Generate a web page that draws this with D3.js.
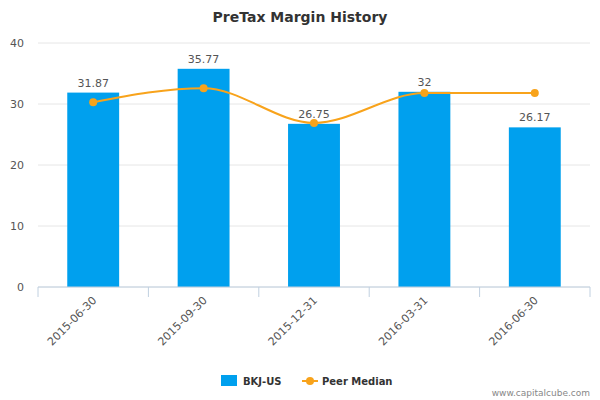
<!DOCTYPE html>
<html><head><meta charset="utf-8">
<script src="https://cdn.jsdelivr.net/npm/d3@7"></script>
<style>body{margin:0;background:#fff;font-family:"DejaVu Sans",sans-serif;}</style>
</head><body><svg id="chart" width="600" height="400"></svg>
<script>
const categories = ["2015-06-30", "2015-09-30", "2015-12-31", "2016-03-31", "2016-06-30"];
const companyValues = [31.87, 35.77, 26.75, 32, 26.17];
const peerMedian = [30.3, 32.6, 26.9, 31.8, 31.8];
const yTicks = [0, 10, 20, 30, 40];

const svg = d3.select("#chart");
const margin = {left: 38, right: 10, top: 43, bottom: 113};
const width = 600, height = 400;

const x = d3.scaleBand().domain(categories).range([margin.left, width - margin.right]).paddingInner(0.53).paddingOuter(0.265);
const y = d3.scaleLinear().domain([0, 40]).range([height - margin.bottom, margin.top]);

// grid
svg.append("g").selectAll("line").data(yTicks).enter().append("line")
  .attr("x1", margin.left).attr("x2", width - margin.right)
  .attr("y1", d => y(d)).attr("y2", d => y(d))
  .attr("stroke", "#e6e6e6");

svg.append("g").selectAll("text").data(yTicks).enter().append("text")
  .attr("x", 24).attr("y", d => y(d) + 4).attr("text-anchor", "end")
  .style("font-size", "11px").style("fill", "#555").text(d => d);

// bars
svg.append("g").selectAll("rect").data(companyValues).enter().append("rect")
  .attr("x", (d, i) => x(categories[i])).attr("width", x.bandwidth())
  .attr("y", d => y(d)).attr("height", d => y(0) - y(d))
  .attr("fill", "#00a0ee");

svg.append("g").selectAll("text").data(companyValues).enter().append("text")
  .attr("x", (d, i) => x(categories[i]) + x.bandwidth() / 2).attr("y", d => y(d) - 6)
  .attr("text-anchor", "middle").style("font-size", "11px").style("fill", "#555")
  .text(d => d);

// x axis
const base = y(0);
svg.append("line").attr("x1", margin.left).attr("x2", width - margin.right)
  .attr("y1", base).attr("y2", base).attr("stroke", "#c0d0e0");
const step = x.step();
const ticksX = d3.range(categories.length + 1).map(i => margin.left + i * step);
svg.append("g").selectAll("line").data(ticksX).enter().append("line")
  .attr("x1", d => d).attr("x2", d => d).attr("y1", base).attr("y2", base + 10)
  .attr("stroke", "#c0d0e0");
svg.append("g").selectAll("text").data(categories).enter().append("text")
  .attr("transform", d => `translate(${x(d) + x.bandwidth() / 2 + 4},${base + 14}) rotate(-45)`)
  .attr("text-anchor", "end").style("font-size", "11px").style("fill", "#555").text(d => d);

// peer median line
const cx = (d, i) => x(categories[i]) + x.bandwidth() / 2;
svg.append("path").datum(peerMedian)
  .attr("d", d3.line().x(cx).y(d => y(d)).curve(d3.curveMonotoneX))
  .attr("fill", "none").attr("stroke", "#f8a31b").attr("stroke-width", 2);
svg.append("g").selectAll("circle").data(peerMedian).enter().append("circle")
  .attr("cx", cx).attr("cy", d => y(d)).attr("r", 4).attr("fill", "#f8a31b");

// title
svg.append("text").attr("x", 300).attr("y", 22).attr("text-anchor", "middle")
  .style("font-size", "14px").style("font-weight", "bold").style("fill", "#333")
  .text("PreTax Margin History");

// legend
svg.append("rect").attr("x", 221).attr("y", 375).attr("width", 16).attr("height", 11).attr("fill", "#00a0ee");
svg.append("text").attr("x", 243).attr("y", 385).style("font-size", "10px").style("font-weight", "bold").style("fill", "#333").text("BKJ-US");
svg.append("line").attr("x1", 302).attr("x2", 318).attr("y1", 381).attr("y2", 381).attr("stroke", "#f8a31b").attr("stroke-width", 2);
svg.append("circle").attr("cx", 310).attr("cy", 381).attr("r", 4).attr("fill", "#f8a31b");
svg.append("text").attr("x", 322).attr("y", 385).style("font-size", "10px").style("font-weight", "bold").style("fill", "#333").text("Peer Median");

svg.append("text").attr("x", 590).attr("y", 396).attr("text-anchor", "end")
  .style("font-size", "9px").style("fill", "#888").text("www.capitalcube.com");
</script></body></html>
